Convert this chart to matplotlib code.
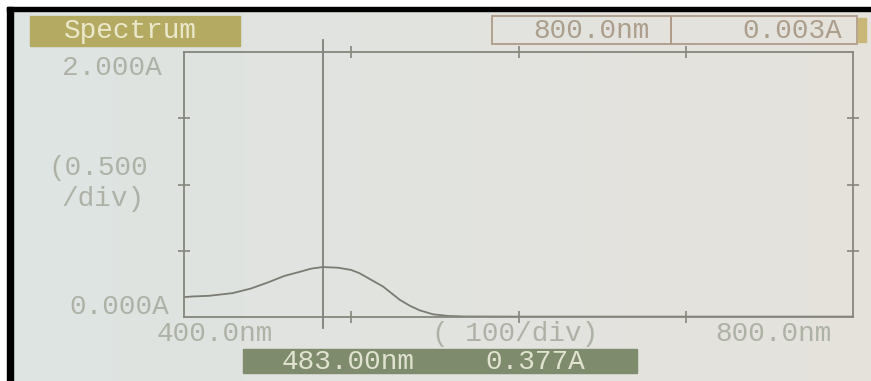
import matplotlib.pyplot as plt
import matplotlib.patches as patches
import numpy as np

# Spectrum
wavelength = [400, 405, 415, 429, 440, 450, 460, 469, 476, 483, 492, 500,
              505, 512, 519, 525, 529, 535, 541, 549, 558, 568, 600, 700, 800]
absorbance = [0.15, 0.155, 0.16, 0.18, 0.215, 0.26, 0.31, 0.34, 0.365, 0.377,
              0.372, 0.355, 0.33, 0.28, 0.23, 0.17, 0.13, 0.085, 0.05, 0.02,
              0.008, 0.004, 0.003, 0.003, 0.003]
cursor_nm = 483.0
cursor_abs = 0.377
end_nm = 800.0
end_abs = 0.003
x_min, x_max, x_div = 400, 800, 100
y_min, y_max, y_div = 0.0, 2.0, 0.5

W, H = 871, 381
line_col = '#85867c'
label_col = '#aeb2a6'
mono = 'Liberation Mono'
fs = 20

fig = plt.figure(figsize=(W / 100, H / 100), dpi=100)

# Background layer in pixel coordinates
bg = fig.add_axes([0, 0, 1, 1])
bg.set_xlim(0, W)
bg.set_ylim(H, 0)
bg.axis('off')

# screen with a slight warm shift to the right
grad = np.linspace(0, 1, 200)[None, :, None]
left_c = np.array([0.870, 0.895, 0.885])
right_c = np.array([0.900, 0.888, 0.865])
img = left_c * (1 - grad) + right_c * grad
bg.imshow(img, extent=[0, W, H, 0], aspect='auto', zorder=0)

# photo border
bg.add_patch(patches.Rectangle((0, 0), W, 7, color='white', zorder=1))
bg.add_patch(patches.Rectangle((0, 0), 8, H, color='white', zorder=1))
bg.add_patch(patches.Rectangle((7, 7), W, 3.5, color='black', zorder=2))
bg.add_patch(patches.Rectangle((7, 7), 6, H, color='black', zorder=2))

# header
bg.add_patch(patches.Rectangle((30, 16), 210, 30, color='#b4aa62', zorder=2))
bg.text(130, 31, 'Spectrum', family=mono, fontsize=fs, color='#ece8cc',
        ha='center', va='center', zorder=3)
bg.add_patch(patches.Rectangle((492, 16), 179, 28, fill=False,
                               edgecolor='#b09c88', lw=1.3, zorder=2))
bg.add_patch(patches.Rectangle((671, 16), 186, 28, fill=False,
                               edgecolor='#b09c88', lw=1.3, zorder=2))
bg.text(591, 31, f'{end_nm:.1f}nm', family=mono, fontsize=fs,
        color='#ab9e8c', ha='center', va='center', zorder=3)
bg.text(792, 31, f'{end_abs:.3f}A', family=mono, fontsize=fs,
        color='#ab9e8c', ha='center', va='center', zorder=3)
bg.add_patch(patches.Rectangle((858, 18), 8, 24, color='#c8b776', zorder=2))

# axis labels
bg.text(112, 68, f'{y_max:.3f}A', family=mono, fontsize=fs,
        color=label_col, ha='center', va='center', zorder=3)
bg.text(98, 168, f'({y_div:.3f}', family=mono, fontsize=fs,
        color=label_col, ha='center', va='center', zorder=3)
bg.text(103, 199, '/div)', family=mono, fontsize=fs,
        color=label_col, ha='center', va='center', zorder=3)
bg.text(119, 307, f'{y_min:.3f}A', family=mono, fontsize=fs,
        color=label_col, ha='center', va='center', zorder=3)
bg.text(215, 334, f'{x_min:.1f}nm', family=mono, fontsize=fs,
        color=label_col, ha='center', va='center', zorder=3)
bg.text(515, 334, f'( {x_div}/div)', family=mono, fontsize=fs,
        color=label_col, ha='center', va='center', zorder=3)
bg.text(773, 334, f'{x_max:.1f}nm', family=mono, fontsize=fs,
        color=label_col, ha='center', va='center', zorder=3)

# cursor readout
bg.add_patch(patches.Rectangle((243, 349), 394, 24, color='#7e8b6d', zorder=2))
bg.text(348, 362, f'{cursor_nm:.2f}nm', family=mono, fontsize=fs,
        color='#dfe3cf', ha='center', va='center', zorder=3)
bg.text(535, 362, f'{cursor_abs:.3f}A', family=mono, fontsize=fs,
        color='#dfe3cf', ha='center', va='center', zorder=3)

# Spectrum axes
ax = fig.add_axes([184 / W, 1 - 317 / H, 669 / W, 265 / H])
ax.patch.set_alpha(0)
ax.plot(wavelength, absorbance, color='#7a7b72', lw=1.3)
ax.plot([cursor_nm, cursor_nm], [-0.083, 2.09], color='#7f8078', lw=1.3,
        clip_on=False)
ax.set_xlim(x_min, x_max)
ax.set_ylim(y_min, y_max)
ax.set_xticks(np.arange(x_min + x_div, x_max, x_div))
ax.set_yticks(np.arange(y_min + y_div, y_max, y_div))
ax.tick_params(direction='inout', length=9, width=1.2, color=line_col,
               top=True, right=True, labelbottom=False, labelleft=False)
for s in ax.spines.values():
    s.set_color(line_col)
    s.set_linewidth(1.3)

plt.savefig('out.png', dpi=100)
